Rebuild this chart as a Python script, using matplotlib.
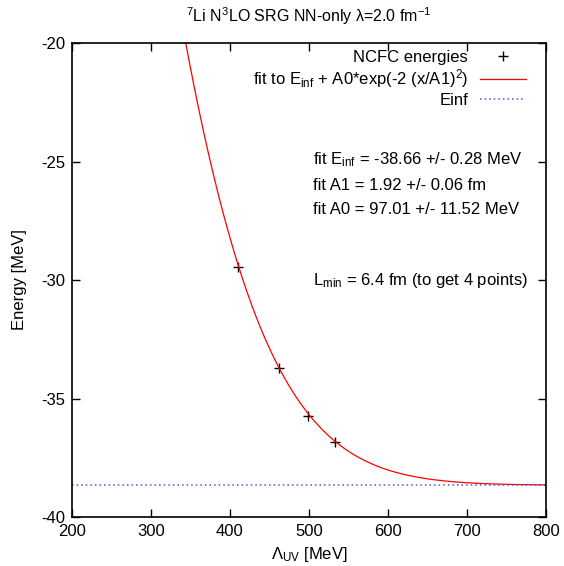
import numpy as np
import matplotlib
matplotlib.use("Agg")
import matplotlib.pyplot as plt

plt.rcParams['font.family'] = ['Liberation Sans', 'DejaVu Sans']
plt.rcParams['mathtext.fontset'] = 'custom'
plt.rcParams['mathtext.rm'] = 'Liberation Sans'
plt.rcParams['mathtext.it'] = 'Liberation Sans'
plt.rcParams['axes.unicode_minus'] = False

# NCFC energies vs UV cutoff
lambda_uv = [410, 462, 499, 533]
energies = [-29.45, -33.70, -35.75, -36.85]

# fit parameters
e_inf = -38.66
a1 = 1.92      # fm^-1 scale
a0 = 97.01
hbarc = 197.327

x_ticks = [200, 300, 400, 500, 600, 700, 800]
y_ticks = [-40, -35, -30, -25, -20]

fig = plt.figure(figsize=(5.64, 5.66), dpi=100)
ax = fig.add_axes([72/564, 1-517/566, (546-72)/564, (517-43)/566])

lam = np.linspace(200, 800, 800)
fit = e_inf + a0*np.exp(-2*(lam/(a1*hbarc))**2)

fs = 12
ax.plot(lambda_uv, energies, linestyle='none', marker='+', color='black',
        markersize=6.5, markeredgewidth=1.0, label='NCFC energies')
ax.plot(lam, fit, color='#ff0000', lw=0.9,
        label=r'fit to E$_{\mathrm{inf}}$ + A0*exp(-2 (x/A1)$^2$)')
ax.plot([200, 800], [e_inf, e_inf], color='#4f4fee', lw=1.1, linestyle=(0, (1.0, 2.0)),
        label='Einf')

ax.set_xlim(200, 800)
ax.set_ylim(-40, -20)
ax.set_xticks(x_ticks)
ax.set_yticks(y_ticks)
ax.tick_params(direction='in', top=True, right=True, length=6, width=1,
               labelsize=fs, pad=5)
for s in ax.spines.values():
    s.set_linewidth(1.2)

ax.set_xlabel('Λ$_{\\mathrm{UV}}$ [MeV]', fontsize=fs, labelpad=4)
ax.set_ylabel('Energy [MeV]', fontsize=fs, labelpad=10)
ax.set_title('$^7$Li N$^3$LO SRG NN-only λ=2.0 fm$^{-1}$', fontsize=11.5, pad=15)

leg = ax.legend(loc='upper right', frameon=False, markerfirst=False, fontsize=fs,
                handlelength=2.8, handletextpad=0.7, labelspacing=0.15,
                borderaxespad=0.0, bbox_to_anchor=(0.9726, 1.0))
for t in leg.get_texts():
    t.set_ha('right')

tx = (313-72)/(546-72)
for ypix, txt in [(160, r'fit E$_{\mathrm{inf}}$ = -38.66 +/- 0.28 MeV'),
                  (185, 'fit A1 = 1.92 +/- 0.06 fm'),
                  (210, 'fit A0 = 97.01 +/- 11.52 MeV'),
                  (280, r'L$_{\mathrm{min}}$ = 6.4 fm (to get 4 points)')]:
    ax.text(tx, (517-ypix)/(517-43), txt, transform=ax.transAxes,
            fontsize=fs, va='center', ha='left')

fig.savefig('out.png', dpi=100)
